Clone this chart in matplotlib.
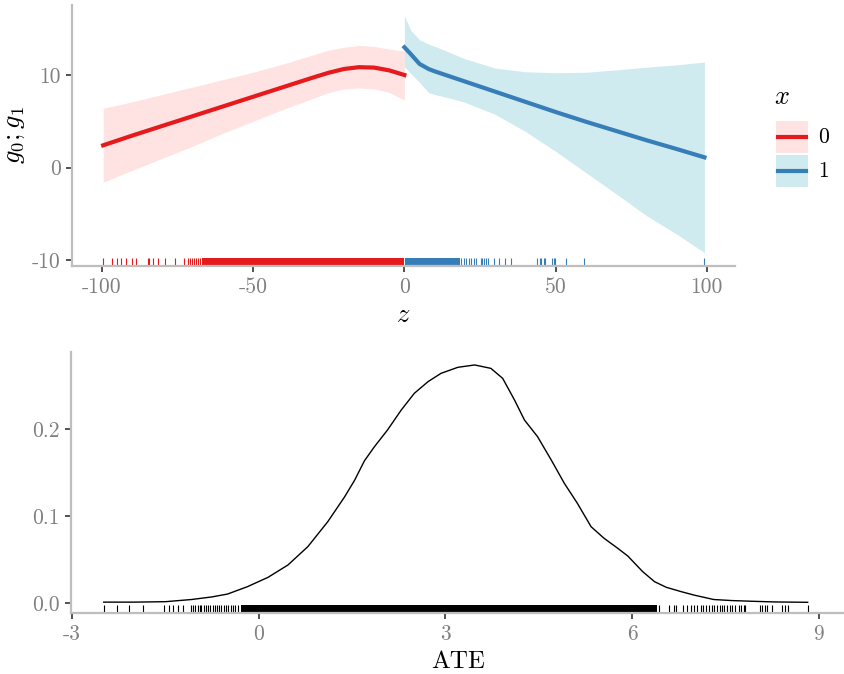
import matplotlib
matplotlib.use("Agg")
import matplotlib.pyplot as plt
from matplotlib.lines import Line2D
from matplotlib.patches import Rectangle

plt.rcParams["font.family"] = ["cmr10", "DejaVu Sans"]
plt.rcParams["mathtext.fontset"] = "cm"
plt.rcParams["axes.unicode_minus"] = False
plt.rcParams["axes.formatter.use_mathtext"] = False

# ---- top panel: g0 / g1 fits ----
group_labels = ["0", "1"]

z0 = [-99.6, -90, -80, -70, -60, -50, -40, -30, -25, -20, -15, -10, -5, 0]
g0 = [2.4, 3.45, 4.5, 5.55, 6.6, 7.65, 8.7, 9.75, 10.25, 10.65, 10.85, 10.8, 10.5, 10.0]
g0_hi = [6.4, 7.1, 7.9, 8.7, 9.5, 10.3, 11.2, 12.2, 12.7, 13.0, 13.2, 13.1, 12.8, 12.6]
g0_lo = [-1.6, -0.3, 1.0, 2.3, 3.7, 5.0, 6.3, 7.5, 8.1, 8.5, 8.6, 8.5, 8.1, 7.3]

z1 = [0, 2, 5, 8, 10, 15, 20, 30, 40, 50, 60, 70, 80, 90, 99.2]
g1 = [13.0, 12.3, 11.2, 10.65, 10.4, 9.85, 9.3, 8.2, 7.1, 6.0, 4.95, 3.95, 2.95, 2.0, 1.1]
g1_hi = [16.4, 14.9, 13.8, 13.35, 13.1, 12.45, 11.75, 10.75, 10.35, 10.25, 10.3, 10.55, 10.85, 11.1, 11.4]
g1_lo = [10.9, 10.2, 9.2, 8.1, 7.9, 7.5, 7.05, 5.75, 3.9, 1.75, -0.55, -2.85, -5.2, -7.2, -9.2]

# rug of z, split by group (dense stretches given as start/end)
rug_z0 = [-99.6, -96.6, -94.9, -93.6, -91.9, -90.2, -88.7, -84.9, -84.3, -83.0,
          -81.4, -79.2, -75.7, -72.8, -71.5, -70.9, -70.2, -69.5, -68.9, -68.2, -67.6]
rug_z0_dense = [(-66.9, 0.0)]
rug_z1 = [18.7, 19.6, 20.5, 21.3, 22.0, 22.9, 23.8, 25.3, 25.7, 26.4, 27.1, 27.5,
          29.7, 31.2, 33.4, 35.2, 44.0, 44.7, 45.3, 46.0, 46.6, 48.8, 49.3, 49.7,
          53.5, 59.4, 99.2]
rug_z1_dense = [(0.2, 18.3)]

z_ticks = [-100, -50, 0, 50, 100]
g_ticks = [-10, 0, 10]

# ---- bottom panel: ATE density ----
ate_x = [-2.49, -2.0, -1.5, -1.08, -0.75, -0.50, -0.18, 0.15, 0.47, 0.79, 1.11,
         1.38, 1.54, 1.70, 1.86, 2.07, 2.29, 2.50, 2.72, 2.93, 3.20, 3.47, 3.73,
         3.92, 4.11, 4.27, 4.48, 4.70, 4.91, 5.12, 5.34, 5.55, 5.77, 5.93, 6.17,
         6.36, 6.55, 6.79, 7.0, 7.31, 7.6, 7.92, 8.3, 8.82]
ate_dens = [0.001, 0.001, 0.0015, 0.004, 0.007, 0.0103, 0.0188, 0.0295, 0.0437,
            0.0648, 0.0935, 0.122, 0.141, 0.1636, 0.1797, 0.1989, 0.2218, 0.241,
            0.2544, 0.264, 0.2709, 0.2736, 0.2697, 0.2582, 0.2333, 0.2103, 0.1912,
            0.1644, 0.1376, 0.1146, 0.0877, 0.0743, 0.0628, 0.054, 0.036, 0.0245,
            0.018, 0.013, 0.009, 0.004, 0.0028, 0.002, 0.0012, 0.0008]

rug_ate = [-2.49, -2.27, -2.08, -1.86, -1.52, -1.44, -1.37, -1.30, -1.21,
           -1.09, -1.05, -1.02, -0.98, -0.95, -0.92, -0.88, -0.85, -0.81, -0.78,
           -0.74, -0.71, -0.67, -0.64, -0.60, -0.56, -0.53, -0.49, -0.45, -0.42,
           -0.38, -0.34,
           6.43, 6.59, 6.67, 6.71, 6.81, 6.88, 6.94, 6.99, 7.04, 7.10, 7.14, 7.18,
           7.23, 7.29, 7.32, 7.37, 7.41, 7.45, 7.48, 7.53, 7.57, 7.61, 7.66, 7.72,
           7.75, 7.80, 7.82, 8.05, 8.09, 8.13, 8.17, 8.25, 8.41, 8.46, 8.50, 8.82]
rug_ate_dense = [(-0.29, 6.40)]

ate_ticks = [-3, 0, 3, 6, 9]
dens_ticks = [0.0, 0.1, 0.2]

RED = "#E41A1C"
BLUE = "#377EB8"
RED_FILL = "#FFE3E3"
BLUE_FILL = "#CFEBEF"
AXIS_GREY = "#BEBEBE"
TICK_DARK = "#333333"
LABEL_GREY = "#808080"

W, H = 845, 674


def style_axes(ax):
    for side in ("top", "right"):
        ax.spines[side].set_visible(False)
    for side in ("left", "bottom"):
        ax.spines[side].set_color(AXIS_GREY)
        ax.spines[side].set_linewidth(1.6)
    ax.tick_params(axis="both", colors=TICK_DARK, length=4, width=1.2,
                   labelcolor=LABEL_GREY, labelsize=15.5, pad=4)


def draw_rug(ax, xs, spans, color):
    tr = ax.get_xaxis_transform()
    ax.vlines(xs, 0, 0.03, transform=tr, colors=color, linewidth=0.8)
    for a, b in spans:
        ax.axvspan(a, b, ymin=0, ymax=0.03, color=color, linewidth=0)


def px_box(x1, y1, x2, y2):
    # pixel box (top-left origin) -> figure fraction rect
    return [x1 / W, 1 - y2 / H, (x2 - x1) / W, (y2 - y1) / H]


fig = plt.figure(figsize=(W / 100, H / 100), dpi=100)

# top panel
ax1 = fig.add_axes(px_box(72, 5, 735, 266))
ax1.fill_between(z0, g0_lo, g0_hi, color=RED_FILL, linewidth=0)
ax1.fill_between(z1, g1_lo, g1_hi, color=BLUE_FILL, linewidth=0)
ax1.plot(z0, g0, color=RED, linewidth=3)
ax1.plot(z1, g1, color=BLUE, linewidth=3)
draw_rug(ax1, rug_z0, rug_z0_dense, RED)
draw_rug(ax1, rug_z1, rug_z1_dense, BLUE)
ax1.set_xlim(-109.9, 109.3)
ax1.set_ylim(-10.65, 17.57)
ax1.set_xticks(z_ticks)
ax1.set_yticks(g_ticks)
style_axes(ax1)
ax1.set_xlabel(r"$z$", fontsize=19, labelpad=5)
ax1.set_ylabel(r"$g_0;g_1$", fontsize=19, labelpad=4)

# legend drawn by hand, ggplot style (fill key + line)
fig.text(774 / W, 1 - 97 / H, r"$x$", fontsize=19, ha="left", va="center")
for i, (lab, col, fill) in enumerate(zip(group_labels, [RED, BLUE], [RED_FILL, BLUE_FILL])):
    top = 121 + i * 34
    fig.add_artist(Rectangle((776 / W, 1 - (top + 32) / H), 32 / W, 32 / H,
                             transform=fig.transFigure, color=fill, linewidth=0))
    yc = 1 - (top + 16) / H
    fig.add_artist(Line2D([778 / W, 806 / W], [yc, yc], transform=fig.transFigure,
                          color=col, linewidth=3))
    fig.text(818 / W, yc, lab, fontsize=15.5, ha="left", va="center", color="black")

# bottom panel
ax2 = fig.add_axes(px_box(71, 352, 845, 613))
ax2.plot(ate_x, ate_dens, color="black", linewidth=1.0)
draw_rug(ax2, rug_ate, rug_ate_dense, "black")
ax2.set_xlim(-3.016, 9.42)
ax2.set_ylim(-0.0115, 0.2885)
ax2.set_xticks(ate_ticks)
ax2.set_yticks(dens_ticks)
ax2.set_yticklabels([f"{v:.1f}" for v in dens_ticks])
style_axes(ax2)
ax2.set_xlabel("ATE", fontsize=18, labelpad=5)

fig.savefig("out.png", dpi=100)
